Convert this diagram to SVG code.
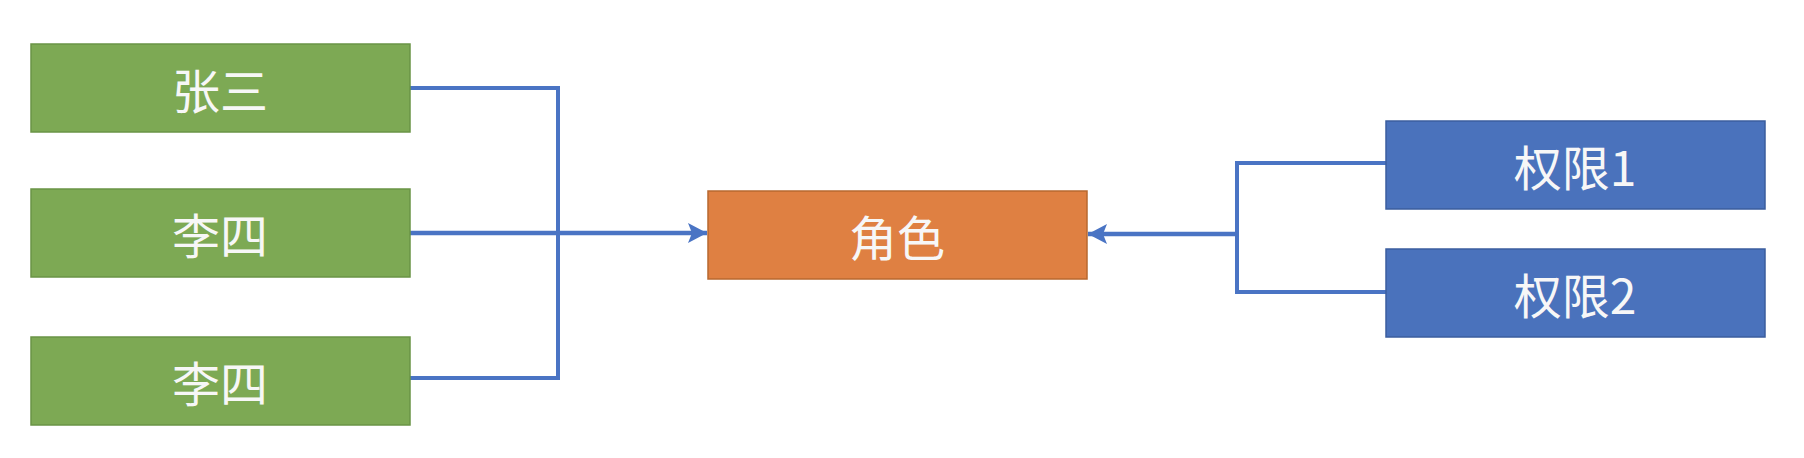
<svg xmlns="http://www.w3.org/2000/svg" width="1804" height="458" viewBox="0 0 1804 458">
<style>
.lbl{font-family:"Noto Sans CJK SC","Noto Sans",sans-serif;font-size:48px;fill:#F7F7F7;text-anchor:middle}
.g{fill:#7DA954;stroke:#6A9446;stroke-width:1.5}
.o{fill:#DF8042;stroke:#B8682F;stroke-width:1.5}
.b{fill:#4A72BC;stroke:#3B5E9E;stroke-width:1.5}
.c{fill:none;stroke:#4A74C4;stroke-width:4}
.a{fill:none;stroke:#4A74C4;stroke-width:4.5}
</style>
<defs>
<marker id="arr" markerUnits="userSpaceOnUse" markerWidth="22" markerHeight="22" viewBox="0 0 22 22" refX="19" refY="11" orient="auto">
<path d="M0,1 L19,11 L0,21 L4,11 Z" fill="#4A74C4"/>
</marker>
</defs>
<rect width="1804" height="458" fill="#FFFFFF"/>
<g id="connectors">
<path class="c" d="M410,88 H558 V233"/>
<path class="c" d="M410,378 H558 V233"/>
<path class="a" d="M410,233 H707" marker-end="url(#arr)"/>
<path class="c" d="M1386,163 H1237 V292 H1386"/>
<path class="a" d="M1237,234 H1088" marker-end="url(#arr)"/>
</g>
<g id="zhangsan"><rect class="g" x="31" y="44" width="379" height="88"/><text class="lbl" x="220" y="109">张三</text></g>
<g id="lisi1"><rect class="g" x="31" y="189" width="379" height="88"/><text class="lbl" x="220" y="254">李四</text></g>
<g id="lisi2"><rect class="g" x="31" y="337" width="379" height="88"/><text class="lbl" x="220" y="402">李四</text></g>
<g id="role"><rect class="o" x="708" y="191" width="379" height="88"/><text class="lbl" x="897" y="256">角色</text></g>
<g id="perm1"><rect class="b" x="1386" y="121" width="379" height="88"/><text class="lbl" x="1575" y="186">权限1</text></g>
<g id="perm2"><rect class="b" x="1386" y="249" width="379" height="88"/><text class="lbl" x="1575" y="314">权限2</text></g>
</svg>
